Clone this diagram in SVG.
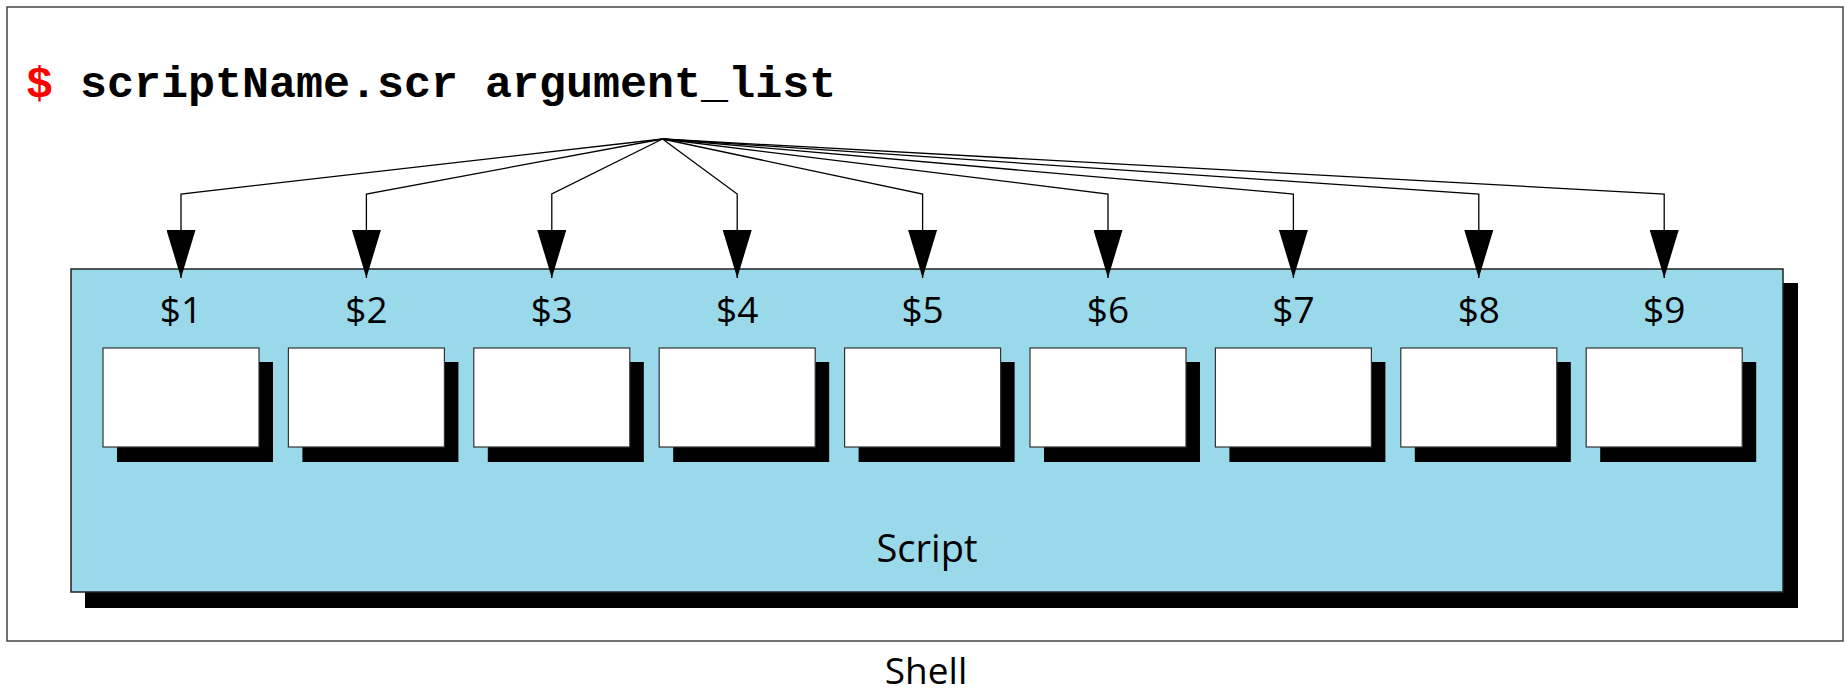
<svg xmlns="http://www.w3.org/2000/svg" width="1845" height="694" viewBox="0 0 1845 694">
<style>
.frame{fill:#fff;stroke:#444;stroke-width:1.5}
.script{fill:#9ad9ea;stroke:#222;stroke-width:1.5}
.shadow{fill:#000}
.arg{fill:#fff;stroke:#333;stroke-width:1.2}
.conn{fill:none;stroke:#000;stroke-width:1.3}
.lbl{font-family:"Open Sans","Liberation Sans",sans-serif;font-size:37px;fill:#000;text-anchor:middle}
.big{font-family:"Open Sans","Liberation Sans",sans-serif;font-size:38px;fill:#000;text-anchor:middle}
.cmd{font-family:"Liberation Mono","Courier New",monospace;font-weight:bold;font-size:45px;fill:#000}
</style>
<defs>
<marker id="ah" markerUnits="userSpaceOnUse" viewBox="0 0 48 29" refX="48" refY="14.5" markerWidth="48" markerHeight="29" orient="auto">
<path d="M0,0 L48,14.5 L0,29 Z" fill="#000"/>
</marker>
</defs>
<rect width="1845" height="694" fill="#fff"/>
<g id="shell">
<rect class="frame" x="7" y="7" width="1836" height="634"/>
<text class="big" x="926" y="684" style="font-size:37px">Shell</text>
</g>
<g id="command">
<text class="cmd" x="26" y="97"><tspan fill="#f00">$</tspan> scriptName.scr argument_list</text>
</g>
<g id="script">
<rect class="shadow" x="85" y="283" width="1713" height="325"/>
<rect class="script" x="71" y="269" width="1712" height="323"/>
<text class="big" x="927" y="562">Script</text>
</g>
<g id="connectors">
<polyline class="conn" marker-end="url(#ah)" points="662.5,139 181,194 181,278"/>
<polyline class="conn" marker-end="url(#ah)" points="662.5,139 366.4,194 366.4,278"/>
<polyline class="conn" marker-end="url(#ah)" points="662.5,139 551.8,194 551.8,278"/>
<polyline class="conn" marker-end="url(#ah)" points="662.5,139 737.2,194 737.2,278"/>
<polyline class="conn" marker-end="url(#ah)" points="662.5,139 922.6,194 922.6,278"/>
<polyline class="conn" marker-end="url(#ah)" points="662.5,139 1108,194 1108,278"/>
<polyline class="conn" marker-end="url(#ah)" points="662.5,139 1293.4,194 1293.4,278"/>
<polyline class="conn" marker-end="url(#ah)" points="662.5,139 1478.8,194 1478.8,278"/>
<polyline class="conn" marker-end="url(#ah)" points="662.5,139 1664.2,194 1664.2,278"/>
</g>
<g id="arg1"><text class="lbl" x="181" y="323">$1</text><rect class="shadow" x="117" y="362" width="156" height="100"/><rect class="arg" x="103" y="348" width="156" height="99"/></g>
<g id="arg2"><text class="lbl" x="366.4" y="323">$2</text><rect class="shadow" x="302.4" y="362" width="156" height="100"/><rect class="arg" x="288.4" y="348" width="156" height="99"/></g>
<g id="arg3"><text class="lbl" x="551.8" y="323">$3</text><rect class="shadow" x="487.8" y="362" width="156" height="100"/><rect class="arg" x="473.8" y="348" width="156" height="99"/></g>
<g id="arg4"><text class="lbl" x="737.2" y="323">$4</text><rect class="shadow" x="673.2" y="362" width="156" height="100"/><rect class="arg" x="659.2" y="348" width="156" height="99"/></g>
<g id="arg5"><text class="lbl" x="922.6" y="323">$5</text><rect class="shadow" x="858.6" y="362" width="156" height="100"/><rect class="arg" x="844.6" y="348" width="156" height="99"/></g>
<g id="arg6"><text class="lbl" x="1108" y="323">$6</text><rect class="shadow" x="1044" y="362" width="156" height="100"/><rect class="arg" x="1030" y="348" width="156" height="99"/></g>
<g id="arg7"><text class="lbl" x="1293.4" y="323">$7</text><rect class="shadow" x="1229.4" y="362" width="156" height="100"/><rect class="arg" x="1215.4" y="348" width="156" height="99"/></g>
<g id="arg8"><text class="lbl" x="1478.8" y="323">$8</text><rect class="shadow" x="1414.8" y="362" width="156" height="100"/><rect class="arg" x="1400.8" y="348" width="156" height="99"/></g>
<g id="arg9"><text class="lbl" x="1664.2" y="323">$9</text><rect class="shadow" x="1600.2" y="362" width="156" height="100"/><rect class="arg" x="1586.2" y="348" width="156" height="99"/></g>
</svg>
